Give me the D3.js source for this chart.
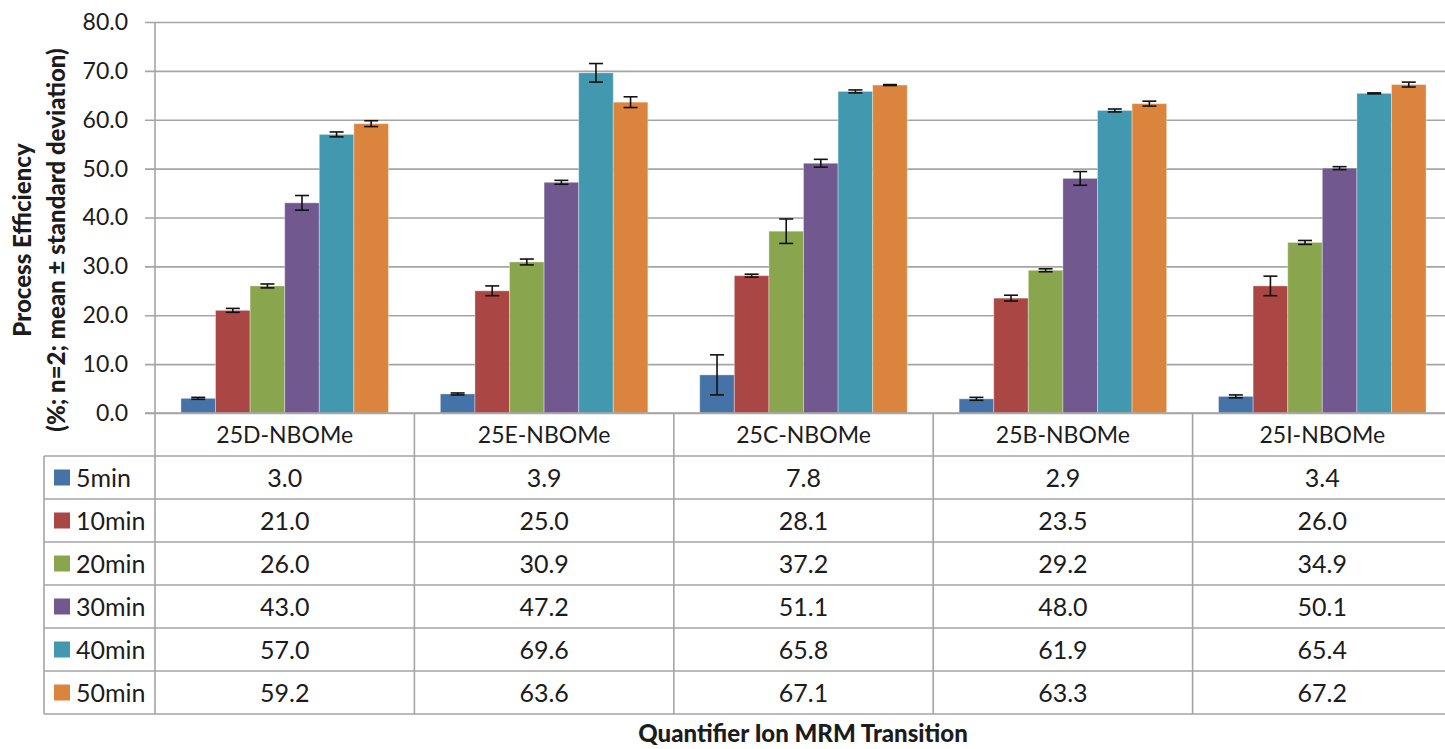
<!DOCTYPE html>
<html>
<head>
<meta charset="utf-8">
<script src="https://cdn.jsdelivr.net/npm/d3@7"></script>
<style>
  html, body { margin: 0; padding: 0; background: #fff; }
  svg { display: block; }
  text { font-family: Lato, "Open Sans", "Liberation Sans", sans-serif; fill: #1c1c1c; }
</style>
</head>
<body>
<svg id="chart" width="1445" height="749"></svg>
<script>
// Compounds (x categories) and extraction times (series)
const categories = ["25D-NBOMe", "25E-NBOMe", "25C-NBOMe", "25B-NBOMe", "25I-NBOMe"];
const seriesNames = ["5min", "10min", "20min", "30min", "40min", "50min"];
const seriesColors = ["#4572A7", "#AA4643", "#89A54E", "#71588F", "#4198AF", "#DB843D"];

// Mean process efficiency (%) per series, in category order
const mean5min  = [3.0, 3.9, 7.8, 2.9, 3.4];
const mean10min = [21.0, 25.0, 28.1, 23.5, 26.0];
const mean20min = [26.0, 30.9, 37.2, 29.2, 34.9];
const mean30min = [43.0, 47.2, 51.1, 48.0, 50.1];
const mean40min = [57.0, 69.6, 65.8, 61.9, 65.4];
const mean50min = [59.2, 63.6, 67.1, 63.3, 67.2];

// Standard deviations (n=2)
const sd5min  = [0.2, 0.2, 4.1, 0.3, 0.3];
const sd10min = [0.4, 1.0, 0.3, 0.6, 2.0];
const sd20min = [0.4, 0.6, 2.5, 0.3, 0.4];
const sd30min = [1.5, 0.4, 0.8, 1.4, 0.3];
const sd40min = [0.5, 1.9, 0.3, 0.3, 0.1];
const sd50min = [0.6, 1.1, 0.1, 0.5, 0.5];

// Y axis ticks
const yTicks = [0, 10, 20, 30, 40, 50, 60, 70, 80];

const means = [mean5min, mean10min, mean20min, mean30min, mean40min, mean50min];
const sds = [sd5min, sd10min, sd20min, sd30min, sd40min, sd50min];

const svg = d3.select("#chart");

const plotLeft = 155, plotRight = 1452, plotTop = 22, plotBottom = 413;
const tableLeft = 44, tableBottom = 714;
const gridColor = "#A5A5A5";

const x0 = d3.scaleBand().domain(categories).range([plotLeft, plotRight]).paddingInner(0).paddingOuter(0);
const x1 = d3.scaleBand().domain(seriesNames).range([0, x0.bandwidth()]).paddingInner(0).paddingOuter(0.75);
const y = d3.scaleLinear().domain([0, 80]).range([plotBottom, plotTop]);
const rowScale = d3.scaleBand().domain(["header", ...seriesNames]).range([plotBottom, tableBottom]);

// Horizontal gridlines with tick stubs to the left of the axis
const yAxis = d3.axisLeft(y).tickValues(yTicks).tickFormat(d3.format(".1f"))
  .tickSize(-(plotRight - plotLeft) - 10).tickSizeOuter(0).tickPadding(0);
const gy = svg.append("g").attr("transform", `translate(${plotLeft - 10},0)`).call(yAxis);
gy.select(".domain").remove();
gy.selectAll(".tick line").attr("stroke", gridColor).attr("stroke-width", 1.6);
gy.selectAll(".tick text")
  .attr("x", -17)
  .attr("font-size", 23)
  .attr("fill", "#1c1c1c")
  .style("font-family", "Lato, 'Open Sans', sans-serif");

// Bars
const data = [];
seriesNames.forEach((s, si) => {
  categories.forEach((c, ci) => {
    data.push({ cat: c, series: s, si, value: means[si][ci], sd: sds[si][ci] });
  });
});

svg.append("g").selectAll("rect").data(data).join("rect")
  .attr("x", d => x0(d.cat) + x1(d.series))
  .attr("width", x1.bandwidth())
  .attr("y", d => y(d.value))
  .attr("height", d => y(0) - y(d.value))
  .attr("fill", d => seriesColors[d.si])
  .attr("stroke", "rgba(255,255,255,0.35)")
  .attr("stroke-width", 1);

// Error bars (mean ± SD)
const capHalf = 7;
const eb = svg.append("g").attr("stroke", "#111").attr("stroke-width", 1.6);
data.forEach(d => {
  const cx = x0(d.cat) + x1(d.series) + x1.bandwidth() / 2;
  const yHi = y(d.value + d.sd), yLo = y(d.value - d.sd);
  eb.append("line").attr("x1", cx).attr("x2", cx).attr("y1", yHi).attr("y2", yLo);
  eb.append("line").attr("x1", cx - capHalf).attr("x2", cx + capHalf).attr("y1", yHi).attr("y2", yHi);
  eb.append("line").attr("x1", cx - capHalf).attr("x2", cx + capHalf).attr("y1", yLo).attr("y2", yLo);
});

// Data table grid
const grid = svg.append("g").attr("stroke", gridColor).attr("stroke-width", 1.6).attr("fill", "none");
// category axis line
grid.append("line").attr("x1", plotLeft - 10).attr("x2", plotRight).attr("y1", plotBottom).attr("y2", plotBottom);
// row separators
seriesNames.forEach(s => {
  grid.append("line").attr("x1", tableLeft).attr("x2", plotRight)
    .attr("y1", rowScale(s)).attr("y2", rowScale(s));
});
grid.append("line").attr("x1", tableLeft).attr("x2", plotRight)
  .attr("y1", tableBottom).attr("y2", tableBottom);
// value axis line and table left edge
grid.append("line").attr("x1", plotLeft).attr("x2", plotLeft).attr("y1", plotTop).attr("y2", tableBottom);
grid.append("line").attr("x1", tableLeft).attr("x2", tableLeft).attr("y1", rowScale(seriesNames[0])).attr("y2", tableBottom);
// category column separators
categories.slice(1).forEach(c => {
  grid.append("line").attr("x1", x0(c)).attr("x2", x0(c)).attr("y1", plotBottom).attr("y2", tableBottom);
});

const tableFont = 25;

// Category headers
svg.append("g").selectAll("text").data(categories).join("text")
  .attr("x", c => x0(c) + x0.bandwidth() / 2)
  .attr("y", rowScale("header") + rowScale.bandwidth() / 2)
  .attr("dy", "0.36em")
  .attr("text-anchor", "middle")
  .attr("font-size", 23)
  .text(c => c);

// Legend keys and series labels
const legend = svg.append("g").selectAll("g").data(seriesNames).join("g")
  .attr("transform", s => `translate(0,${rowScale(s) + rowScale.bandwidth() / 2})`);
legend.append("rect")
  .attr("x", 54).attr("y", -8).attr("width", 16).attr("height", 16)
  .attr("fill", (s, i) => seriesColors[i]);
legend.append("text")
  .attr("x", 76).attr("dy", "0.36em")
  .attr("font-size", tableFont)
  .text(s => s);

// Table values, drawn from the same means as the bars
svg.append("g").selectAll("text").data(data).join("text")
  .attr("x", d => x0(d.cat) + x0.bandwidth() / 2)
  .attr("y", d => rowScale(d.series) + rowScale.bandwidth() / 2)
  .attr("dy", "0.36em")
  .attr("text-anchor", "middle")
  .attr("font-size", tableFont)
  .text(d => d.value.toFixed(1));

// Axis titles
const yTitle = svg.append("text")
  .attr("transform", "translate(0,240) rotate(-90)")
  .attr("text-anchor", "middle")
  .attr("font-weight", "900")
  .attr("font-size", 24);
yTitle.append("tspan").attr("x", 0).attr("y", 31).text("Process Efficiency");
yTitle.append("tspan").attr("x", 0).attr("y", 65).text("(%; n=2; mean \u00B1 standard deviation)");

svg.append("text")
  .attr("x", 803).attr("y", 742)
  .attr("text-anchor", "middle")
  .attr("font-weight", "900")
  .attr("font-size", 24)
  .text("Quantifier Ion MRM Transition");
</script>
</body>
</html>
